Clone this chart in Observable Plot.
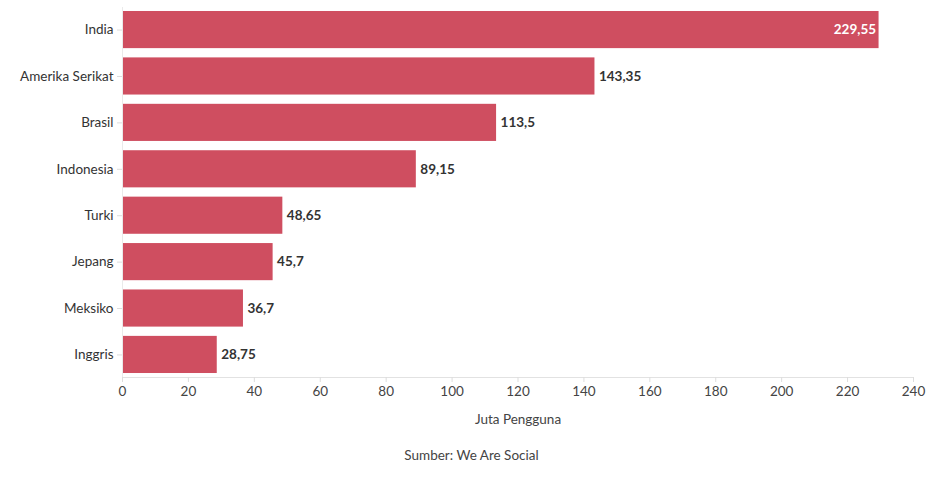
<!DOCTYPE html>
<html>
<head>
<meta charset="utf-8">
<script src="https://cdn.jsdelivr.net/npm/d3@7"></script>
<script src="https://cdn.jsdelivr.net/npm/@observablehq/plot@0.6"></script>
<style>
  body { margin: 0; background: #fff; font-family: Lato, "Open Sans", sans-serif; }
  #chart { width: 943px; }
  .caption { text-align: center; font-size: 13.5px; color: #444; margin-top: 9px; }
</style>
</head>
<body>
<div id="chart"></div>
<script>
const countries = ["India", "Amerika Serikat", "Brasil", "Indonesia", "Turki", "Jepang", "Meksiko", "Inggris"];
const users = [229.55, 143.35, 113.5, 89.15, 48.65, 45.7, 36.7, 28.75];
const xTicks = [0, 20, 40, 60, 80, 100, 120, 140, 160, 180, 200, 220, 240];

const data = countries.map((c, i) => ({country: c, value: users[i]}));
const fmt = v => String(v).replace(".", ",");
const insideThreshold = 200;

const chart = Plot.plot({
  width: 943,
  height: 438,
  marginTop: 7,
  marginLeft: 122,
  marginRight: 30,
  marginBottom: 61,
  style: {fontFamily: "Lato, 'Open Sans', sans-serif", fontSize: "13.5px", color: "#333"},
  x: {domain: [0, 240], ticks: xTicks, label: "Juta Pengguna", labelAnchor: "center", labelArrow: "none", labelOffset: 46, tickSize: 5, tickPadding: 4},
  y: {domain: countries, label: null, paddingInner: 0.2, paddingOuter: 0.086, round: false, tickSize: 5},
  marks: [
    Plot.barX(data, {x: "value", y: "country", fill: "#cf4e60"}),
    Plot.frame({anchor: "bottom", stroke: "#e2e2e2"}),
    Plot.frame({anchor: "left", stroke: "#eaeaea"}),
    Plot.axisX({ticks: xTicks, tickSize: 5, stroke: "#ddd", color: "#444", tickPadding: 4, label: "Juta Pengguna", labelAnchor: "center", labelArrow: "none", labelOffset: 46}),
    Plot.axisY({tickSize: 5, stroke: "#ddd", color: "#333", tickPadding: 4, label: null}),
    Plot.text(data.filter(d => d.value < insideThreshold), {x: "value", y: "country", text: d => fmt(d.value), textAnchor: "start", dx: 4, fontWeight: "bold", fill: "#333", fontSize: 13.5}),
    Plot.text(data.filter(d => d.value >= insideThreshold), {x: "value", y: "country", text: d => fmt(d.value), textAnchor: "end", dx: -3, fontWeight: "bold", fill: "#fff", fontSize: 13.5})
  ]
});
document.getElementById("chart").appendChild(chart);
const cap = document.createElement("div");
cap.className = "caption";
cap.textContent = "Sumber: We Are Social";
document.getElementById("chart").appendChild(cap);
</script>
</body>
</html>
